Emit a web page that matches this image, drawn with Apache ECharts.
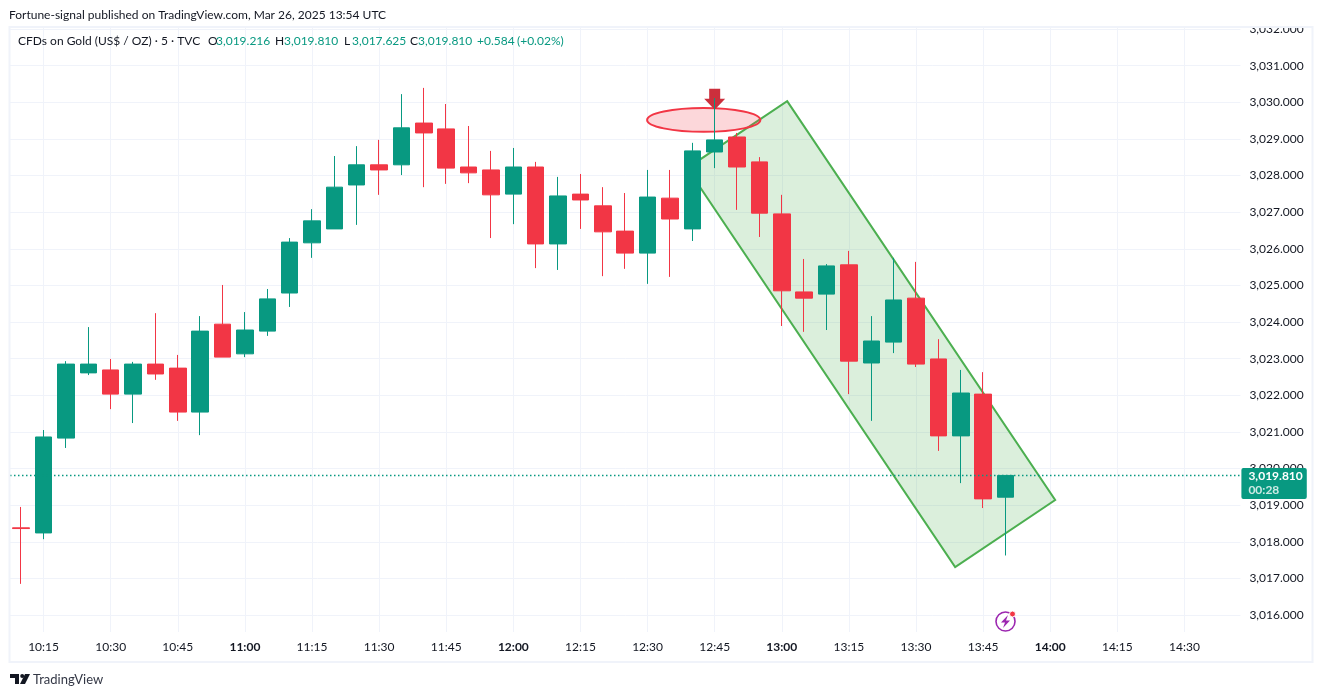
<!DOCTYPE html>
<html>
<head>
<meta charset="utf-8">
<title>CFDs on Gold</title>
<script src="https://cdn.jsdelivr.net/npm/echarts@6/dist/echarts.min.js"></script>
<style>
html,body{margin:0;padding:0;background:#fff;}
#main{width:1322px;height:697px;}
</style>
</head>
<body>
<div id="main"></div>
<script>
var FONT = 'Lato, sans-serif';
var GREEN = '#089981', RED = '#f23645', TEXT = '#131722', GRID = '#f0f3fa';

// 5 minute bars, 10:10 to the right edge of the pane
var times = ['10:10','10:15','10:20','10:25','10:30','10:35','10:40','10:45','10:50','10:55',
  '11:00','11:05','11:10','11:15','11:20','11:25','11:30','11:35','11:40','11:45','11:50','11:55',
  '12:00','12:05','12:10','12:15','12:20','12:25','12:30','12:35','12:40','12:45','12:50','12:55',
  '13:00','13:05','13:10','13:15','13:20','13:25','13:30','13:35','13:40','13:45','13:50','13:55',
  '14:00','14:05','14:10','14:15','14:20','14:25','14:30','14:35','14:40'];
var opens = [3018.38,3018.24,3020.83,3022.61,3022.69,3022.03,3022.85,3022.74,3021.54,3023.94,3023.13,3023.75,
  3024.79,3026.16,3026.54,3027.74,3028.29,3028.29,3029.43,3029.27,3028.23,3028.15,3027.49,3028.23,3026.13,
  3027.49,3027.17,3026.48,3025.88,3027.38,3026.54,3028.64,3029.05,3028.37,3026.95,3024.82,3024.76,3025.56,
  3022.88,3023.45,3024.65,3022.99,3020.89,3022.03,3019.216];
var closes = [3018.36,3020.86,3022.85,3022.85,3022.03,3022.85,3022.58,3021.54,3023.75,3023.04,3023.78,3024.63,
  3026.18,3026.76,3027.68,3028.29,3028.15,3029.30,3029.16,3028.20,3028.07,3027.47,3028.23,3026.13,3027.44,
  3027.33,3026.46,3025.88,3027.41,3026.81,3028.67,3028.97,3028.23,3026.97,3024.85,3024.65,3025.53,3022.93,
  3023.48,3024.60,3022.85,3020.89,3022.06,3019.17,3019.81];
var lows = [3016.85,3018.07,3020.56,3022.55,3021.62,3021.24,3022.42,3021.30,3020.91,3023.04,3023.04,3023.62,
  3024.41,3025.75,3026.54,3026.65,3027.47,3028.01,3027.68,3027.77,3027.79,3026.29,3026.67,3025.47,3025.42,
  3026.54,3025.25,3025.45,3025.04,3025.23,3026.21,3028.20,3027.06,3026.32,3023.89,3023.73,3023.78,3022.03,
  3021.30,3023.15,3022.77,3020.48,3019.60,3018.92,3017.625];
var highs = [3018.95,3021.05,3022.93,3023.86,3022.99,3022.91,3024.24,3023.10,3024.16,3025.01,3024.27,3024.90,
  3026.29,3027.08,3028.53,3028.80,3028.97,3030.22,3030.39,3029.95,3029.35,3028.67,3028.75,3028.37,3027.96,
  3028.04,3027.68,3027.52,3028.15,3028.15,3028.89,3030.11,3029.16,3028.50,3027.47,3025.72,3025.58,3025.94,
  3024.16,3025.75,3025.64,3023.53,3022.69,3022.63,3019.81];
var lastPrice = 3019.81;

// drawings, x is a fractional bar number
var channelBars = [34.24,46.22,41.75,29.77];
var channelPrices = [3030.03,3019.14,3017.31,3028.20];
var ellipseBars = [27.98,33.04];
var ellipsePrices = [3029.19,3029.84];
var arrowBar = 31, arrowPrice = 3029.79;

var candles = opens.map(function(o,i){ return [o,closes[i],lows[i],highs[i]]; });
function everyThird(i){ return (i-1)%3===0; }
function money(v){ return v.toLocaleString('en-US',{minimumFractionDigits:3,maximumFractionDigits:3}); }

function headerText(x,y,txt,color,size){
  return {type:'text',z:101,x:x,y:y,style:{text:txt,fill:color||TEXT,font:(size||12)+'px '+FONT,textVerticalAlign:'middle'}};
}

var myChart = echarts.init(document.getElementById('main'),null,{renderer:'canvas'});
myChart.setOption({
  animation:false,
  backgroundColor:'#fff',
  // grid 0 carries the candles, grid 1 only the price scale: same px per unit but whole number ends
  grid:[
    {left:10,top:28,width:1230.4,height:604},
    {left:10,top:29,width:1230.4,height:622.71}
  ],
  xAxis:[{
    type:'category',data:times,boundaryGap:true,gridIndex:0,
    axisLine:{show:false},
    axisTick:{show:false,alignWithLabel:true,interval:everyThird},
    splitLine:{show:true,alignWithLabel:true,interval:everyThird,lineStyle:{color:GRID,width:1}},
    axisLabel:{
      interval:everyThird,margin:9,fontFamily:FONT,fontSize:12,color:TEXT,
      formatter:function(v){ return v.slice(-2)==='00' ? '{b|'+v+'}' : v; },
      rich:{b:{fontFamily:FONT,fontSize:12,fontWeight:'bold',color:TEXT}}
    }
  },{
    type:'value',gridIndex:0,min:-0.5,max:54.5,show:false
  },{
    type:'value',gridIndex:1,min:0,max:1,show:false
  }],
  yAxis:[{
    type:'value',gridIndex:0,min:3015.536,max:3032.025,show:false
  },{
    type:'value',gridIndex:1,position:'right',min:3015,max:3032,interval:1,
    axisLine:{show:false},axisTick:{show:false},
    splitLine:{show:true,showMinLine:false,lineStyle:{color:GRID,width:1}},
    axisLabel:{margin:9,fontFamily:FONT,fontSize:12,color:TEXT,showMinLabel:false,formatter:money}
  }],
  series:[{
    // green channel
    type:'custom',xAxisIndex:1,yAxisIndex:0,z:1,silent:true,clip:false,
    data:[[channelBars[0],channelPrices[0]]],
    renderItem:function(params,api){
      var pts = channelBars.map(function(b,i){ return api.coord([b,channelPrices[i]]); });
      return {type:'polygon',shape:{points:pts},style:{fill:'rgba(76,175,80,0.2)',stroke:'#4caf50',lineWidth:2}};
    }
  },{
    // red ellipse around the wick
    type:'custom',xAxisIndex:1,yAxisIndex:0,z:1,silent:true,clip:false,
    data:[[ellipseBars[0],ellipsePrices[0]]],
    renderItem:function(params,api){
      var a = api.coord([ellipseBars[0],ellipsePrices[0]]), b = api.coord([ellipseBars[1],ellipsePrices[1]]);
      return {type:'ellipse',shape:{cx:(a[0]+b[0])/2,cy:(a[1]+b[1])/2,rx:(b[0]-a[0])/2,ry:(a[1]-b[1])/2},
        style:{fill:'rgba(242,54,69,0.2)',stroke:RED,lineWidth:2}};
    }
  },{
    // arrow down
    type:'custom',xAxisIndex:1,yAxisIndex:0,z:1,silent:true,clip:false,
    data:[[arrowBar,arrowPrice]],
    renderItem:function(params,api){
      var p = api.coord([arrowBar,arrowPrice]), x = p[0], y = p[1];
      return {type:'polygon',shape:{points:[[x,y],[x-10.5,y-11],[x-5.5,y-11],[x-5.5,y-21],[x+5.5,y-21],[x+5.5,y-11],[x+10.5,y-11]]},
        style:{fill:'#cc2f3c'}};
    }
  },{
    type:'candlestick',xAxisIndex:0,yAxisIndex:0,z:3,barWidth:17,data:candles,
    itemStyle:{color:GREEN,color0:RED,borderColor:GREEN,borderColor0:RED,borderWidth:1},
    markLine:{
      silent:true,symbol:'none',animation:false,z:5,
      lineStyle:{color:GREEN,type:[1.5,2.5],width:1.4},
      data:[{yAxis:lastPrice}],
      label:{
        show:true,position:'end',distance:1,offset:[0,8],
        formatter:function(){ return '{a|'+money(lastPrice)+'}\n{b|00:28}'; },
        backgroundColor:GREEN,padding:[1,4,2,7],borderRadius:2,
        rich:{
          a:{fontFamily:FONT,fontSize:12,fontWeight:'bold',color:'#fff',lineHeight:14},
          b:{fontFamily:FONT,fontSize:12,fontWeight:'bold',color:'#cdeae4',lineHeight:14}
        }
      }
    }
  }],
  graphic:[
    // white strip cuts the top price label, then the pane frame
    {type:'rect',z:100,shape:{x:0,y:0,width:1322,height:27},style:{fill:'#fff'}},
    {type:'rect',z:100,shape:{x:9.5,y:27,width:1303,height:635},style:{fill:'none',stroke:GRID,lineWidth:2}},
    headerText(9,15,'Fortune-signal published on TradingView.com, Mar 26, 2025 13:54 UTC'),
    headerText(18,41.5,'CFDs on Gold (US$ / OZ) · 5 · TVC'),
    headerText(208,41.5,'O'),headerText(216,41.5,money(opens[44]),GREEN),
    headerText(275,41.5,'H'),headerText(284,41.5,money(highs[44]),GREEN),
    headerText(344,41.5,'L'),headerText(352,41.5,money(lows[44]),GREEN),
    headerText(410,41.5,'C'),headerText(418,41.5,money(closes[44]),GREEN),
    headerText(477,41.5,'+0.584',GREEN),headerText(517,41.5,'(+0.02%)',GREEN),
    // lightning badge
    {type:'circle',z:100,shape:{cx:1005.5,cy:621.5,r:9.5},style:{fill:'#fff',stroke:'#9c27b0',lineWidth:1.6}},
    {type:'polygon',z:100,shape:{points:[[1008,615],[1001,622.5],[1005,622.5],[1003,628],[1010,620.5],[1006,620.5]]},style:{fill:'#9c27b0'}},
    {type:'circle',z:100,shape:{cx:1012.5,cy:614,r:3},style:{fill:'#f23645',stroke:'#fff',lineWidth:1}},
    // TradingView logo
    {type:'polygon',z:100,shape:{points:[[10,674],[19,674],[19,684],[15,684],[15,678],[10,678]]},style:{fill:TEXT}},
    {type:'circle',z:100,shape:{cx:22.2,cy:676,r:2},style:{fill:TEXT}},
    {type:'polygon',z:100,shape:{points:[[25,674],[30,674],[25,684],[20,684]]},style:{fill:TEXT}},
    headerText(33,680,'TradingView','#333745',13)
  ]
});
window.addEventListener('resize',function(){ myChart.resize(); });
</script>
</body>
</html>
